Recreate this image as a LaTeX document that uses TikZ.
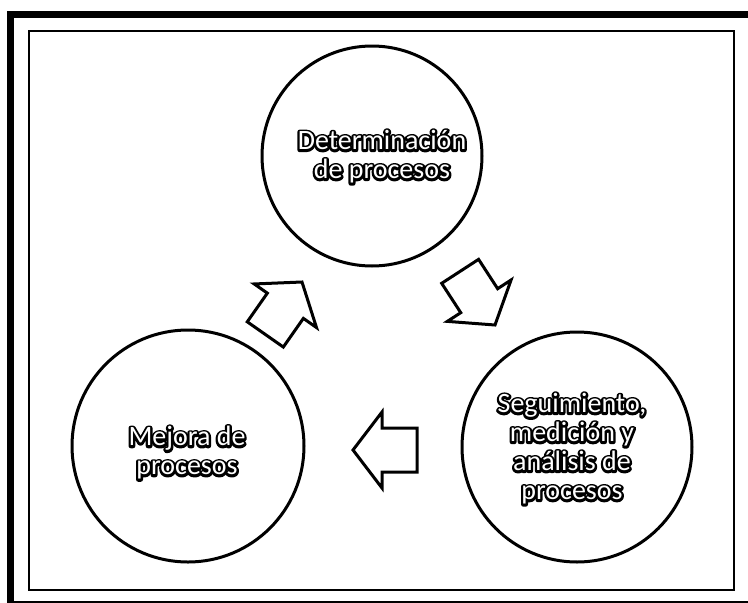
\documentclass[tikz,border=0pt]{standalone}
\usepackage{fontspec}
\setmainfont{Carlito}
\newcommand\myhalo[1]{\hbox{\rlap{\color{black}\special{pdf:literal direct 2 Tr 4.6 w 1 j}#1\special{pdf:literal direct 0 Tr}}\color{white}#1}}
\tikzset{
  circ/.style={circle, draw=black, line width=3pt, fill=white, inner sep=0pt},
  lbl/.style={align=center, inner sep=0pt, font=\fontsize{28}{29}\selectfont},
  arrowline/.style={draw=black, line width=3pt, fill=white, line join=miter},
  blockarrow/.pic={\path[arrowline] (0,0) -- (-29,38) -- (-29,22) -- (-64,22) -- (-64,-22) -- (-29,-22) -- (-29,-38) -- cycle;}
}
\begin{document}
\begin{tikzpicture}[x=1pt,y=-1pt]
\path[use as bounding box] (0,0) rectangle (748,603);
\clip (0,0) rectangle (748,603);
\fill[white] (0,0) rectangle (748,603);
% frames
\draw[line width=7pt] (10.5,14.5) rectangle (770,604.5);
\draw[line width=2pt] (28.5,31) rectangle (733.5,590);
% circles
\node[circ, minimum size=220pt] (ctop) at (372,156) {};
\node[circ, minimum size=232pt] (cleft) at (188,446) {};
\node[circ, minimum size=230pt] (cright) at (577,447) {};
% labels
\node[lbl] (ttop) at (382,157) {\myhalo{Determinación}\\\myhalo{de procesos}};
\node[lbl] (tleft) at (187,453) {\myhalo{Mejora de}\\\myhalo{procesos}};
\node[lbl] (tright) at (572,449) {\myhalo{Seguimiento,}\\\myhalo{medición y}\\\myhalo{análisis de}\\\myhalo{procesos}};
% arrows
\pic[rotate=55] at (302,282) {blockarrow};
\pic[rotate=-57] at (495,325) {blockarrow};
\pic[rotate=180] at (353,450) {blockarrow};
\end{tikzpicture}
\end{document}
